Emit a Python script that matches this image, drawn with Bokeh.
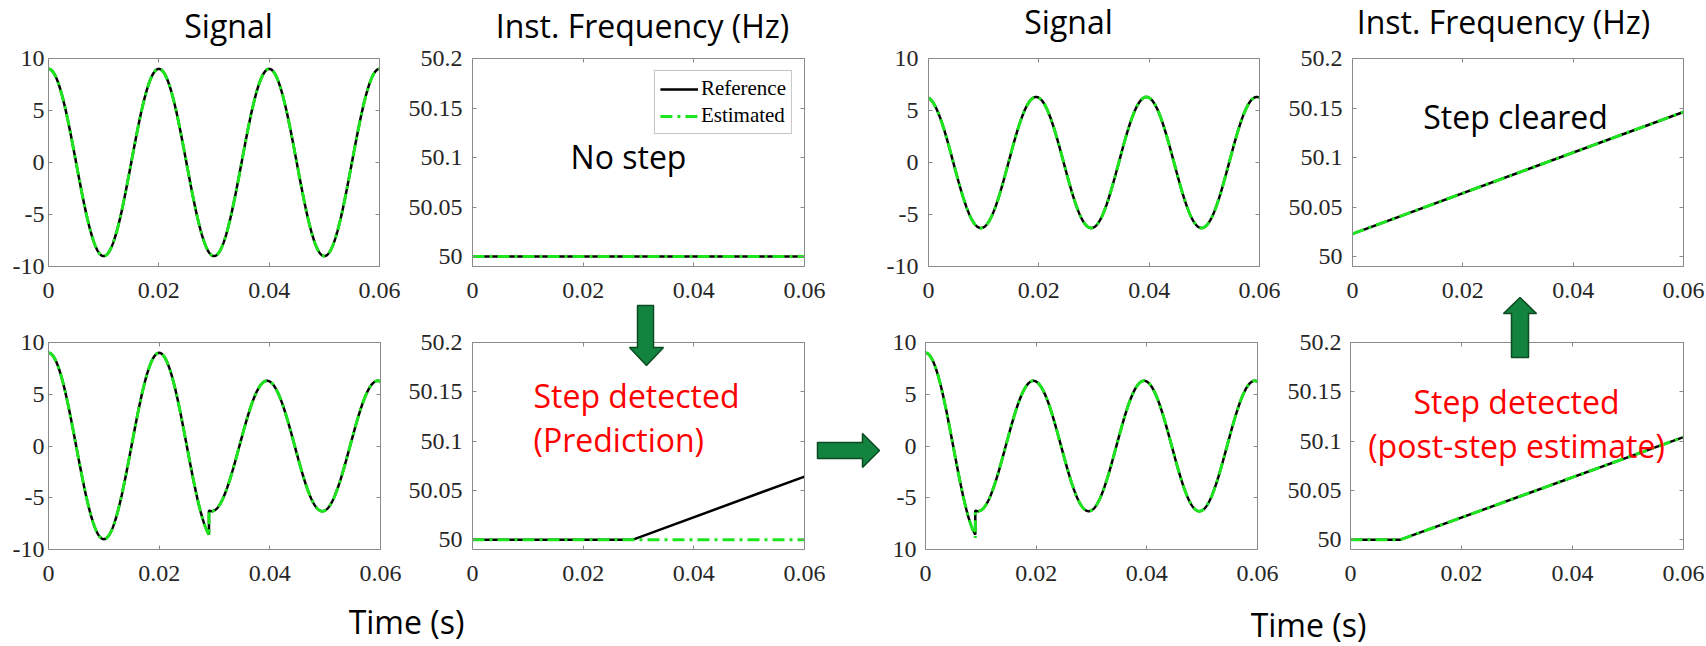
import numpy as np
from bokeh.plotting import figure
from bokeh.models import Range1d, LinearAxis, FixedTicker
from bokeh.layouts import row, column
from bokeh.core.properties import value
from bokeh.embed import file_html
from bokeh.resources import INLINE

# ---------------- values ----------------
x_ticks = [0, 0.02, 0.04, 0.06]
x_tick_labels = ["0", "0.02", "0.04", "0.06"]
sig_ticks = [-10, -5, 0, 5, 10]
sig_tick_labels = ["-10", "-5", "0", "5", "10"]
sig_tick_labels_p7 = ["10", "-5", "0", "5", "10"]
freq_ticks = [50, 50.05, 50.1, 50.15, 50.2]
freq_tick_labels = ["50", "50.05", "50.1", "50.15", "50.2"]

t_end = 0.06
nominal_freq = 50.0          # Hz
amp_pre = 9.0                # signal amplitude before the step
amp_post = 6.3               # signal amplitude after the step
post_phase_lead = 0.0005     # s  (post-step peaks at 0.0195, 0.0395)
step_time_pred = 0.029       # s, step in bottom-left signal
step_time_post = 0.009       # s, step in bottom-right signal
est_dip_pred = -8.7          # estimated signal spike at the step
est_dip_post = -8.9

# instantaneous frequency, break points (s, Hz)
f_nostep_t = [0, 0.06];          f_nostep_ref = [50, 50];         f_nostep_est = [50, 50]
f_pred_t = [0, 0.029, 0.06];     f_pred_ref = [50, 50, 50.064]
f_pred_est_t = [0, 0.06];        f_pred_est = [50, 50]
f_clear_t = [0, 0.06];           f_clear_ref = [50.023, 50.146];  f_clear_est = [50.023, 50.146]
f_post_t = [0, 0.009, 0.06];     f_post_ref = [50, 50, 50.104];   f_post_est = [50, 50, 50.104]

sig_range = (-10, 10)
freq_range = (49.99, 50.2)

# ---------------- signal curves from the read parameters ----------------
t = np.linspace(0, t_end, 1201)


def wave(amp, tt, lead=0.0):
    return amp * np.cos(2 * np.pi * nominal_freq * (np.asarray(tt) + lead))


sig_nostep = wave(amp_pre, t)
sig_clear = wave(amp_post, t, post_phase_lead)


def stepped(ts, dip=None):
    pre = t[t < ts]
    post = t[t > ts]
    xs = list(pre) + [ts]
    ys = list(wave(amp_pre, pre)) + [float(wave(amp_pre, ts))]
    if dip is not None:
        xs.append(ts)
        ys.append(dip)
    xs += [ts] + list(post)
    ys += [float(wave(amp_post, ts, post_phase_lead))] + list(wave(amp_post, post, post_phase_lead))
    return xs, ys


pred_ref_x, pred_ref_y = stepped(step_time_pred)
pred_est_x, pred_est_y = stepped(step_time_pred, est_dip_pred)
post_ref_x, post_ref_y = stepped(step_time_post)
post_est_x, post_est_y = stepped(step_time_post, est_dip_post)

# ---------------- styling ----------------
FRAME = "#8a8a8a"
TICKLBL = "#262626"
GREEN = "#1ee61e"
DASHDOT = "12 5 3 5"
W, H = 1706, 646
TOP_H = 332          # top-row canvases (overlap the bottom row by OVL px)
OVL = 19
ROW2_Y = TOP_H - OVL  # page y where the bottom-row canvases start
BOT_H = H - ROW2_Y
XSTAND = 16


def panel(w, h, bl, br, bt, bb, yr, yticks, ylabels, ystand):
    p = figure(width=w, height=h, x_range=Range1d(0, t_end), y_range=Range1d(*yr),
               output_backend="svg", toolbar_location=None, tools="",
               min_border_left=bl, min_border_right=br, min_border_top=bt, min_border_bottom=bb,
               x_axis_location=None, y_axis_location=None, title=None)
    p.grid.visible = False
    p.outline_line_color = None
    p.background_fill_color = "white"
    p.border_fill_alpha = 0
    specs = [("below", x_ticks, x_tick_labels, True, XSTAND),
             ("left", yticks, ylabels, True, ystand),
             ("above", x_ticks, x_tick_labels, False, 0),
             ("right", yticks, ylabels, False, 0)]
    for loc, ticks, labels, show, stand in specs:
        ax = LinearAxis(ticker=FixedTicker(ticks=ticks),
                        major_label_overrides=dict(zip(ticks, labels)))
        ax.axis_line_color = FRAME
        ax.axis_line_width = 1
        ax.major_tick_line_color = FRAME
        ax.major_tick_in = 4
        ax.major_tick_out = 0
        ax.minor_tick_line_color = None
        ax.major_label_text_font = "Liberation Serif"
        ax.major_label_text_font_size = "24px" if show else "0px"
        ax.major_label_text_color = TICKLBL
        if not show:
            ax.major_label_text_alpha = 0
        ax.major_label_standoff = stand
        p.add_layout(ax, loc)
    return p


def draw(p, rx, ry, ex, ey, legend=False):
    kw_r = dict(legend_label="Reference") if legend else {}
    kw_e = dict(legend_label="Estimated") if legend else {}
    p.line(rx, ry, line_color="black", line_width=2.5, **kw_r)
    p.line(ex, ey, line_color=GREEN, line_width=3, line_dash=DASHDOT, **kw_e)


# top row (page y 0..332)
p1 = panel(403, TOP_H, 48, 24, 57, TOP_H - 272, sig_range, sig_ticks, sig_tick_labels, 4)
draw(p1, t, sig_nostep, t, sig_nostep)

p2 = panel(475, TOP_H, 69, 74, 58, TOP_H - 272, freq_range, freq_ticks, freq_tick_labels, 10)
draw(p2, f_nostep_t, f_nostep_ref, f_nostep_t, f_nostep_est, legend=True)
lg = p2.legend[0]
lg.location = "top_right"
lg.margin = 12
lg.padding = 5
lg.spacing = 2
lg.glyph_width = 38
lg.glyph_height = 22
lg.label_height = 22
lg.label_standoff = 3
lg.label_text_font = "Liberation Serif"
lg.label_text_font_size = "21px"
lg.label_text_color = "black"
lg.border_line_color = "#8a8a8a"
lg.border_line_width = 1
lg.background_fill_color = "white"
lg.background_fill_alpha = 1

p5 = panel(406, TOP_H, 50, 25, 52, TOP_H - 266, sig_range, sig_ticks, sig_tick_labels, 10)
draw(p5, t, sig_clear, t, sig_clear)

p6 = panel(422, TOP_H, 68, 23, 52, TOP_H - 266, freq_range, freq_ticks, freq_tick_labels, 10)
draw(p6, f_clear_t, f_clear_ref, f_clear_t, f_clear_est)

# bottom row (page y 313..646)
p3 = panel(403, BOT_H, 48, 23, 342 - ROW2_Y, H - 556, sig_range, sig_ticks, sig_tick_labels, 4)
draw(p3, pred_ref_x, pred_ref_y, pred_est_x, pred_est_y)

p4 = panel(475, BOT_H, 69, 74, 342 - ROW2_Y, H - 556, freq_range, freq_ticks, freq_tick_labels, 10)
draw(p4, f_pred_t, f_pred_ref, f_pred_est_t, f_pred_est)

p7 = panel(406, BOT_H, 47, 27, 335 - ROW2_Y, H - 549, sig_range, sig_ticks, sig_tick_labels_p7, 9)
draw(p7, post_ref_x, post_ref_y, post_est_x, post_est_y)

p8 = panel(422, BOT_H, 66, 23, 335 - ROW2_Y, H - 549, freq_range, freq_ticks, freq_tick_labels, 9)
draw(p8, f_post_t, f_post_ref, f_post_t, f_post_est)

top_row = row(p1, p2, p5, p6)
bottom_row = row(p3, p4, p7, p8)
bottom_row.styles = {"margin-top": f"-{OVL}px", "position": "relative"}

# ---------------- transparent overlay: titles, notes, arrows ----------------
ov = figure(width=W, height=H, x_range=Range1d(0, W), y_range=Range1d(H, 0),
            output_backend="svg", toolbar_location=None, tools="", min_border=0,
            x_axis_location=None, y_axis_location=None, title=None)
ov.grid.visible = False
ov.outline_line_color = None
ov.background_fill_alpha = 0
ov.border_fill_alpha = 0
ov.styles = {"margin-top": f"-{H}px", "position": "relative", "z-index": "5"}

# the title box of the upper-right "Signal" panel hides part of its top edge
ov.quad(left=[994], right=[1133], top=[50], bottom=[54], fill_color="white", line_color=None)

FONT = value("Open Sans")
SIZE = value("32px")
MID = 12  # baseline sits this far below the text's middle

ov.text(x=[228, 642, 1068, 1503, 628, 1515, 406, 1308],
        y=[b - MID for b in [37, 37, 33, 33, 168, 128, 633, 636]],
        text=["Signal", "Inst. Frequency (Hz)", "Signal", "Inst. Frequency (Hz)",
              "No step", "Step cleared", "Time (s)", "Time (s)"],
        text_font=FONT, text_font_size=SIZE, text_color="black",
        text_align="center", text_baseline="middle")
ov.text(x=[533, 533], y=[b - MID for b in [407, 451]], text=["Step detected", "(Prediction)"],
        text_font=FONT, text_font_size=SIZE, text_color="#ff0000",
        text_align="left", text_baseline="middle")
ov.text(x=[1516, 1516], y=[b - MID for b in [413, 457]], text=["Step detected", "(post-step estimate)"],
        text_font=FONT, text_font_size=SIZE, text_color="#ff0000",
        text_align="center", text_baseline="middle")

arrow_xs = [
    [637, 653, 653, 663, 646, 629, 637],
    [817, 862, 862, 879, 862, 862, 817],
    [1511, 1528, 1528, 1536, 1519.5, 1503, 1511],
]
arrow_ys = [
    [305, 305, 347, 347, 365, 347, 347],
    [442, 442, 433, 450, 467, 458, 458],
    [357, 357, 313, 313, 297, 313, 313],
]
ov.patches(arrow_xs, arrow_ys, fill_color="#12843f", line_color="#0c4a22", line_width=1.5)

layout = column(top_row, bottom_row, ov)

open("out.html", "w").write(file_html(layout, INLINE))
